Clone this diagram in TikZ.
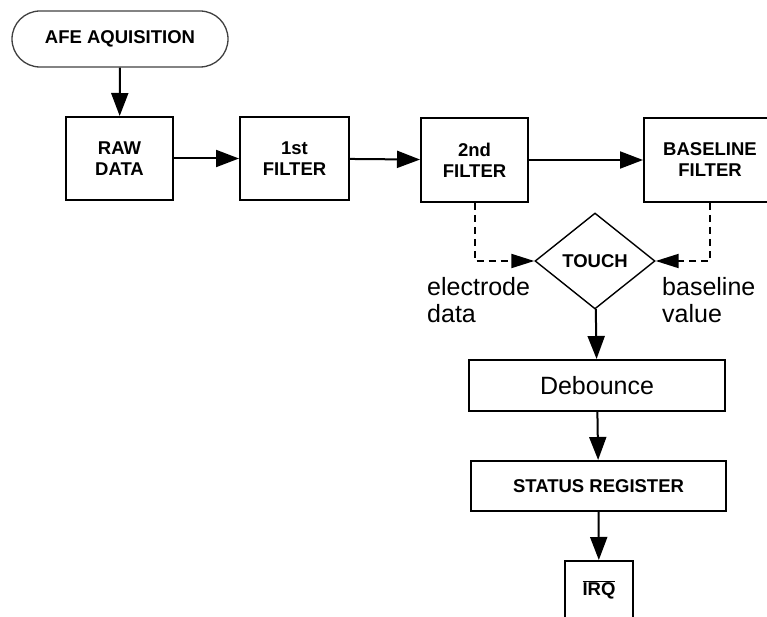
\documentclass[tikz,border=0pt]{standalone}
\usepackage{fontspec}
\setmainfont{Liberation Sans}
\usetikzlibrary{arrows.meta,shapes.geometric}
\begin{document}
\begin{tikzpicture}[x=1pt, y=-1pt,
    box/.style={draw, line width=2pt, align=center, inner sep=0pt,
                font=\fontsize{18.5}{21}\selectfont\bfseries},
    arr/.style={line width=2pt, -{Triangle[length=23pt,width=17pt]}},
    dasharr/.style={line width=2pt, dash pattern=on 7pt off 5pt,
                -{Triangle[length=23pt,width=14pt]}},
    note/.style={align=left, inner sep=0pt, anchor=west,
                font=\fontsize{25}{26.5}\selectfont}]
    \useasboundingbox (0,0) rectangle (767,617);
    \clip (0,0) rectangle (767,617);
    
    % start of the chain
    \node[box, rounded corners=28pt, line width=1.3pt, draw=black!75,
          minimum width=216pt, minimum height=56pt] (afe) at (120,39) {AFE AQUISITION};
    
    \node[box, minimum width=107pt, minimum height=83pt] (raw) at (119.5,158.5) {RAW\\DATA};
    \node[box, minimum width=109pt, minimum height=83pt] (filt1) at (294.5,158.5) {1st\\FILTER};
    \node[box, minimum width=107pt, minimum height=84pt] (filt2) at (474.5,160) {2nd\\FILTER};
    \node[box, minimum width=132pt, minimum height=84pt] (base) at (710,160) {BASELINE\\FILTER};
    
    \node[box, diamond, line width=1.4pt, minimum width=120pt, minimum height=96pt] (touch) at (595,261) {TOUCH};
    
    \node[box, font=\fontsize{25}{27}\selectfont, minimum width=256pt, minimum height=51pt] (deb) at (597,385.5) {Debounce};
    \node[box, minimum width=255pt, minimum height=50pt] (status) at (598.5,486) {STATUS REGISTER};
    \node[box, anchor=north, minimum width=68pt, minimum height=80pt] (irq) at (599,560) {};
    \node[font=\fontsize{18.5}{21}\selectfont\bfseries, inner sep=0pt] (irqtxt) at (599,590) {$\overline{\hbox{IRQ}}$};
    
    \node[note] (eldata) at (427,300) {electrode\\data};
    \node[note] (basval) at (662,300) {baseline\\value};
    
    \draw[arr] (afe) -- (raw);
    \draw[arr] (raw) -- (filt1);
    \draw[arr] (filt1) -- (filt2);
    \draw[arr] (filt2) -- (base);
    \draw[dasharr] (filt2.south) |- (touch.west);
    \draw[dasharr] (base.south) |- (touch.east);
    \draw[arr] (touch) -- (deb);
    \draw[arr] (deb) -- (status);
    \draw[arr] (status) -- (irq);
\end{tikzpicture}
\end{document}
